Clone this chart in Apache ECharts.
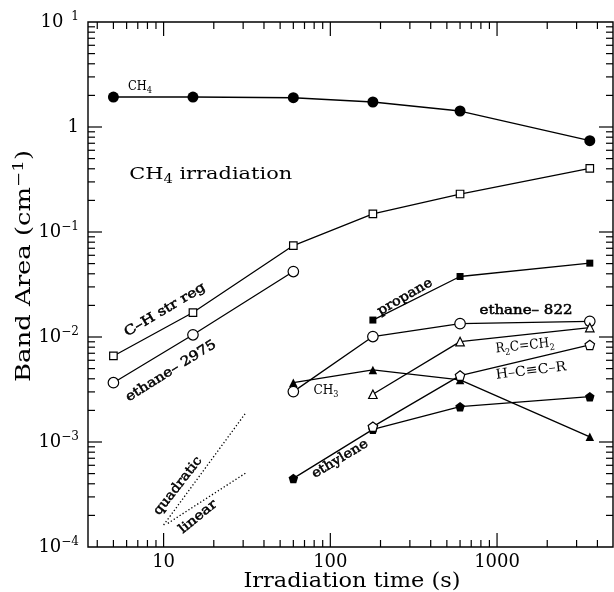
<!DOCTYPE html>
<html>
<head>
<meta charset="utf-8">
<script src="https://cdn.jsdelivr.net/npm/echarts@6/dist/echarts.min.js"></script>
<style>
  html, body { margin: 0; padding: 0; background: #fff; }
  #chart { width: 614px; height: 592px; }
</style>
</head>
<body>
<div id="chart"></div>
<script>
// Irradiation times (s)
const times = [5, 15, 60, 180, 600, 3600];
// Band areas (cm^-1)
const ch4 = [1.93, 1.93, 1.90, 1.73, 1.42, 0.74];
const chStrReg = [0.0066, 0.0171, 0.0743, 0.149, 0.23, 0.403];
const ethane2975Times = [5, 15, 60];
const ethane2975 = [0.00367, 0.0105, 0.042];
const propaneTimes = [180, 600, 3600];
const propane = [0.0145, 0.0377, 0.0505];
const ethane822Times = [60, 180, 600, 3600];
const ethane822 = [0.00302, 0.0101, 0.0134, 0.0141];
const ch3Times = [60, 180, 600, 3600];
const ch3 = [0.00367, 0.00486, 0.0039, 0.00112];
const alkeneTimes = [180, 600, 3600];      // R2C=CH2
const alkene = [0.00285, 0.00904, 0.0123];
const alkyneTimes = [180, 600, 3600];      // H-C≡C-R
const alkyne = [0.0014, 0.00429, 0.0084];
const ethyleneTimes = [60, 180, 600, 3600];
const ethylene = [0.00045, 0.00132, 0.00217, 0.0027];
// Slope guides (quadratic and linear growth)
const quadraticGuide = [[10, 0.000162], [31, 0.00188]];
const linearGuide = [[10.6, 0.000168], [31.3, 0.00051]];

// Axis extents, ticks and tick labels
const xRange = [3.52, 4960];
const yRange = [1e-4, 10];
const xTickValues = [10, 100, 1000];
const xTickLabels = ['10', '100', '1000'];
const yTickValues = [1e-4, 1e-3, 1e-2, 1e-1, 1, 10];
const yTickLabels = [['10', '−4'], ['10', '−3'], ['10', '−2'], ['10', '−1'], ['1', ''], ['10', '1']];
const xDecades = [1, 10, 100, 1000];
const yDecades = [1e-4, 1e-3, 1e-2, 1e-1, 1];
const minorSteps = [2, 3, 4, 5, 6, 7, 8, 9];

const FONT = 'DejaVu Serif';
const zip = (xs, ys) => xs.map((x, i) => [x, ys[i]]);
const sameLog = (a, b) => Math.abs(Math.log10(a) - Math.log10(b)) < 1e-6;

// Text placed on the plot: segments, font size, stroke weight, centre, angle, width
const textLayout = [
  { segs: [['CH', 'n'], ['4', 'sub']], size: 12.5, heavy: 0, cx: 140, cy: 87, angle: 0, width: 24 },
  { segs: [['CH', 'n'], ['4', 'sub'], [' irradiation', 'n']], size: 17, heavy: 0, cx: 210.7, cy: 175, angle: 0, width: 163 },
  { segs: [['C–H str reg', 'n']], size: 13, heavy: 0.5, cx: 165, cy: 310, angle: 31, width: 92 },
  { segs: [['ethane– 2975', 'n']], size: 13, heavy: 0.5, cx: 171, cy: 371, angle: 32, width: 104 },
  { segs: [['propane', 'n']], size: 13, heavy: 0.5, cx: 405, cy: 297, angle: 30, width: 61 },
  { segs: [['ethane– 822', 'n']], size: 13, heavy: 0.5, cx: 526, cy: 311, angle: 0, width: 93 },
  { segs: [['R', 'n'], ['2', 'sub'], ['C=CH', 'n'], ['2', 'sub']], size: 13.5, heavy: 0, cx: 525, cy: 346, angle: 6, width: 59 },
  { segs: [['H–C≡C–R', 'n']], size: 13.5, heavy: 0, cx: 531, cy: 371, angle: 7, width: 71 },
  { segs: [['CH', 'n'], ['3', 'sub']], size: 13.5, heavy: 0, cx: 326, cy: 390, angle: 0, width: 25 },
  { segs: [['ethylene', 'n']], size: 13, heavy: 0.5, cx: 340, cy: 459, angle: 31, width: 63 },
  { segs: [['quadratic', 'n']], size: 13, heavy: 0.5, cx: 178, cy: 486, angle: 52, width: 70 },
  { segs: [['linear', 'n']], size: 13, heavy: 0.5, cx: 198, cy: 517, angle: 39, width: 45 },
  { segs: [['Irradiation time (s)', 'n']], size: 20, heavy: 0, cx: 352, cy: 582, angle: 0, width: 217 },
  { segs: [['Band Area (cm', 'n'], ['−1', 'sup'], [')', 'n']], size: 20, heavy: 0, cx: 25, cy: 266, angle: 90, width: 232 }
];

const measureCtx = document.createElement('canvas').getContext('2d');
function measure(font, s) { measureCtx.font = font; return measureCtx.measureText(s).width; }

function textElement(a) {
  const small = Math.round(a.size * 0.7);
  const ink = a.heavy ? { stroke: '#000', lineWidth: a.heavy } : {};
  const rich = {
    n: Object.assign({ fontFamily: FONT, fontSize: a.size, lineHeight: Math.round(a.size * 1.3), verticalAlign: 'middle', fill: '#000' }, ink),
    sub: Object.assign({ fontFamily: FONT, fontSize: small, lineHeight: small, verticalAlign: 'bottom', fill: '#000' }, ink),
    sup: Object.assign({ fontFamily: FONT, fontSize: small, lineHeight: small, verticalAlign: 'top', fill: '#000' }, ink)
  };
  let text = '';
  let w = 0;
  a.segs.forEach(([t, k]) => {
    text += '{' + k + '|' + t + '}';
    w += measure((k === 'n' ? a.size : small) + 'px "' + FONT + '"', t);
  });
  return {
    type: 'text', x: a.cx, y: a.cy, rotation: a.angle * Math.PI / 180,
    scaleX: a.width / w, scaleY: 1, silent: true, z: 100,
    style: { text, rich, align: 'center', verticalAlign: 'middle', textAlign: 'center', textVerticalAlign: 'middle', fill: '#000' }
  };
}

const openItem = { color: '#fff', borderColor: '#000', borderWidth: 1.2 };
const filledItem = { color: '#000', borderColor: '#000', borderWidth: 0 };
const pentagon = 'path://M0,-1L0.951,-0.309L0.588,0.809L-0.588,0.809L-0.951,-0.309Z';

function lineSeries(name, data, symbol, size, item) {
  return {
    name, type: 'line', data, symbol, symbolSize: size, showSymbol: true, showAllSymbol: true,
    itemStyle: item, lineStyle: { color: '#000', width: 1.3 },
    emphasis: { disabled: true }, z: 3
  };
}

function guideSeries(name, data) {
  return {
    name, type: 'line', data, symbol: 'none',
    lineStyle: { color: '#000', width: 1.3, type: [1.3, 2.2] },
    emphasis: { disabled: true }, z: 2
  };
}

// Major and minor ticks on all four sides of the frame
const tickSeries = {
  type: 'custom', coordinateSystem: 'cartesian2d', silent: true, clip: false, z: 10,
  data: [[xTickValues[0], yTickValues[0]]],
  renderItem: (params, api) => {
    const children = [];
    const add = (p, dx, dy) => children.push({
      type: 'line', shape: { x1: p[0], y1: p[1], x2: p[0] + dx, y2: p[1] + dy },
      style: { stroke: '#000', lineWidth: 1.2 }
    });
    const xTick = (v, len) => { add(api.coord([v, yRange[0]]), 0, -len); add(api.coord([v, yRange[1]]), 0, len); };
    const yTick = (v, len) => { add(api.coord([xRange[0], v]), len, 0); add(api.coord([xRange[1], v]), -len, 0); };
    xTickValues.forEach(v => xTick(v, 14));
    xDecades.forEach(d => minorSteps.forEach(m => {
      const v = d * m;
      if (v > xRange[0] && v < xRange[1]) xTick(v, 7);
    }));
    yTickValues.forEach(v => { if (v > yRange[0] && v < yRange[1]) yTick(v, 14); });
    yDecades.forEach(d => minorSteps.forEach(m => yTick(d * m, 7)));
    return { type: 'group', children };
  }
};

const chart = echarts.init(document.getElementById('chart'), null, { renderer: 'canvas' });
chart.setOption({
  animation: false,
  backgroundColor: '#fff',
  grid: { left: 88, right: 1, top: 22, bottom: 45, show: true, borderColor: '#000', borderWidth: 1.4, backgroundColor: 'transparent', outerBoundsMode: 'none' },
  xAxis: {
    type: 'log', logBase: 10, min: xRange[0], max: xRange[1],
    axisLine: { show: false }, axisTick: { show: false }, splitLine: { show: false },
    axisLabel: {
      interval: 0, margin: 6, color: '#000', fontFamily: FONT, fontSize: 18,
      formatter: v => { const i = xTickValues.findIndex(t => sameLog(t, v)); return i < 0 ? '' : xTickLabels[i]; }
    }
  },
  yAxis: {
    type: 'log', logBase: 10, min: yRange[0], max: yRange[1],
    axisLine: { show: false }, axisTick: { show: false }, splitLine: { show: false },
    axisLabel: {
      interval: 0, margin: 9, color: '#000', showMinLabel: true, showMaxLabel: true,
      formatter: v => {
        const i = yTickValues.findIndex(t => sameLog(t, v));
        if (i < 0) return '';
        const [b, s] = yTickLabels[i];
        if (!s) return '{b|' + b + '}';
        return '{b|' + b + '}' + (s === '1' ? '{sp|' + s + '}' : '{s|' + s + '}');
      },
      rich: {
        b: { fontFamily: FONT, fontSize: 18, lineHeight: 22, color: '#000' },
        s: { fontFamily: FONT, fontSize: 12, lineHeight: 12, verticalAlign: 'top', color: '#000' },
        sp: { fontFamily: FONT, fontSize: 12, lineHeight: 12, verticalAlign: 'top', color: '#000', padding: [0, 0, 0, 8] }
      }
    }
  },
  series: [
    lineSeries('CH4', zip(times, ch4), 'circle', 11, filledItem),
    lineSeries('C-H str reg', zip(times, chStrReg), 'rect', 7.5, openItem),
    lineSeries('ethane 2975', zip(ethane2975Times, ethane2975), 'circle', 10.5, openItem),
    lineSeries('propane', zip(propaneTimes, propane), 'rect', 7, filledItem),
    lineSeries('CH3', zip(ch3Times, ch3), 'triangle', 8.5, filledItem),
    lineSeries('ethane 822', zip(ethane822Times, ethane822), 'circle', 10.5, openItem),
    lineSeries('R2C=CH2', zip(alkeneTimes, alkene), 'triangle', 8.5, openItem),
    lineSeries('ethylene', zip(ethyleneTimes, ethylene), pentagon, 9.5, filledItem),
    lineSeries('H-C≡C-R', zip(alkyneTimes, alkyne), pentagon, 9.5, openItem),
    guideSeries('quadratic', quadraticGuide),
    guideSeries('linear', linearGuide),
    tickSeries
  ],
  graphic: { elements: textLayout.map(textElement) }
});
</script>
</body>
</html>
